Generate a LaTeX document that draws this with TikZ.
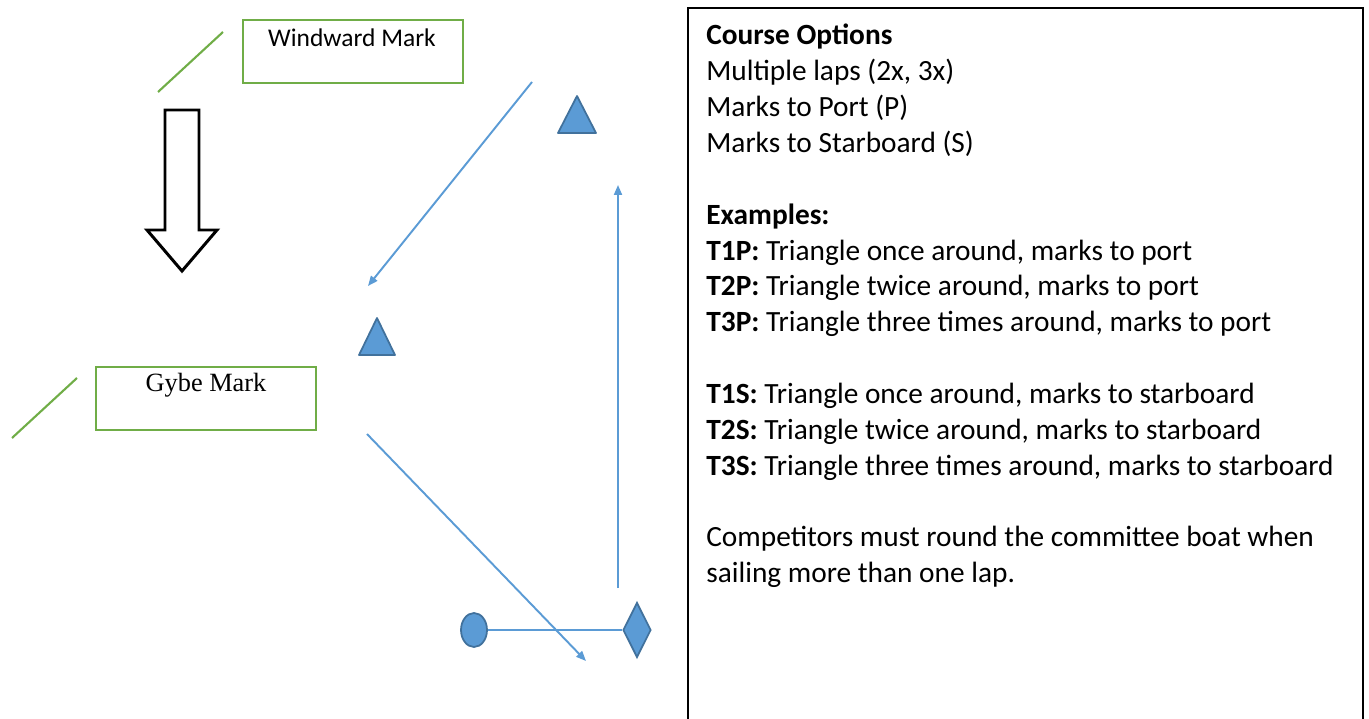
\documentclass[tikz,border=0pt]{standalone}
\usepackage{fontspec}
\setmainfont{Carlito}
\newfontfamily\timesfont{Liberation Serif}
\usetikzlibrary{arrows.meta,shapes.geometric}
\definecolor{markgreen}{HTML}{70AD47}
\definecolor{markblue}{HTML}{5B9BD5}
\definecolor{markedge}{HTML}{41719C}
\begin{document}
\begin{tikzpicture}[x=0.02cm,y=-0.02cm,
  markbox/.style={draw=markgreen,line width=1.2pt,minimum width=4.4cm,minimum height=1.26cm,inner sep=0pt},
  windline/.style={markgreen,line width=1.2pt},
  legarrow/.style={markblue,line width=1.1pt,-{Triangle[length=0.2cm,width=0.16cm]}},
  buoy/.style={fill=markblue,draw=markedge,line width=1pt}]
\useasboundingbox (0,0) rectangle (1369,719);
%\draw[step=50,gray,very thin] (0,0) grid (1369,719);
\node[markbox] (windward) at (353,51.5) {};
\node[anchor=base,font=\fontsize{14.5}{17}\selectfont] (windwardlabel) at (352,47) {Windward Mark};
\draw[windline] (158,92) -- (223,32);
\node[markbox] (gybe) at (206,398.5) {};
\node[anchor=base,font=\timesfont\fontsize{15}{18}\selectfont] (gybelabel) at (206,392) {Gybe Mark};
\draw[windline] (12,438) -- (77,378);
% wind arrow
\draw[line width=1.7pt,line join=miter] (165,110) -- (199,110) -- (199,230) -- (217,230) -- (182,271) -- (147,230) -- (165,230) -- cycle;
% marks
\draw[buoy,line join=round] (577,96) -- (596,133) -- (558,133) -- cycle;
\draw[buoy,line join=round] (377,318) -- (395,355) -- (359,355) -- cycle;
\node[buoy,ellipse,minimum width=0.52cm,minimum height=0.68cm,inner sep=0pt] (pin) at (474,630) {};
\node[buoy,diamond,minimum width=0.56cm,minimum height=1.1cm,inner sep=0pt] (boat) at (637,630) {};
\draw[markblue,line width=1.1pt] (pin) -- (boat);
% course legs
\coordinate (reachAstart) at (532,82);
\coordinate (reachAend) at (368,286);
\coordinate (reachBstart) at (367,434);
\coordinate (reachBend) at (586,661);
\coordinate (beatstart) at (618,588);
\coordinate (beatend) at (618,185);
\draw[legarrow] (reachAstart) -- (reachAend);
\draw[legarrow] (reachBstart) -- (reachBend);
\draw[legarrow] (beatstart) -- (beatend);
% options panel
\draw[line width=1.4pt] (688,719) -- (688,8) -- (1363,8) -- (1363,719);
\node[anchor=north west,align=left,inner sep=0pt,font=\fontsize{16.7}{20.4}\selectfont] (options) at (706,24) {%
\textbf{Course Options}\\
Multiple laps (2x, 3x)\\
Marks to Port (P)\\
Marks to Starboard (S)\\[20.4pt]
\textbf{Examples:}\\
\textbf{T1P:} Triangle once around, marks to port\\
\textbf{T2P:} Triangle twice around, marks to port\\
\textbf{T3P:} Triangle three times around, marks to port\\[20.4pt]
\textbf{T1S:} Triangle once around, marks to starboard\\
\textbf{T2S:} Triangle twice around, marks to starboard\\
\textbf{T3S:} Triangle three times around, marks to starboard\\[20.4pt]
Competitors must round the committee boat when\\
sailing more than one lap.};
\end{tikzpicture}
\end{document}
